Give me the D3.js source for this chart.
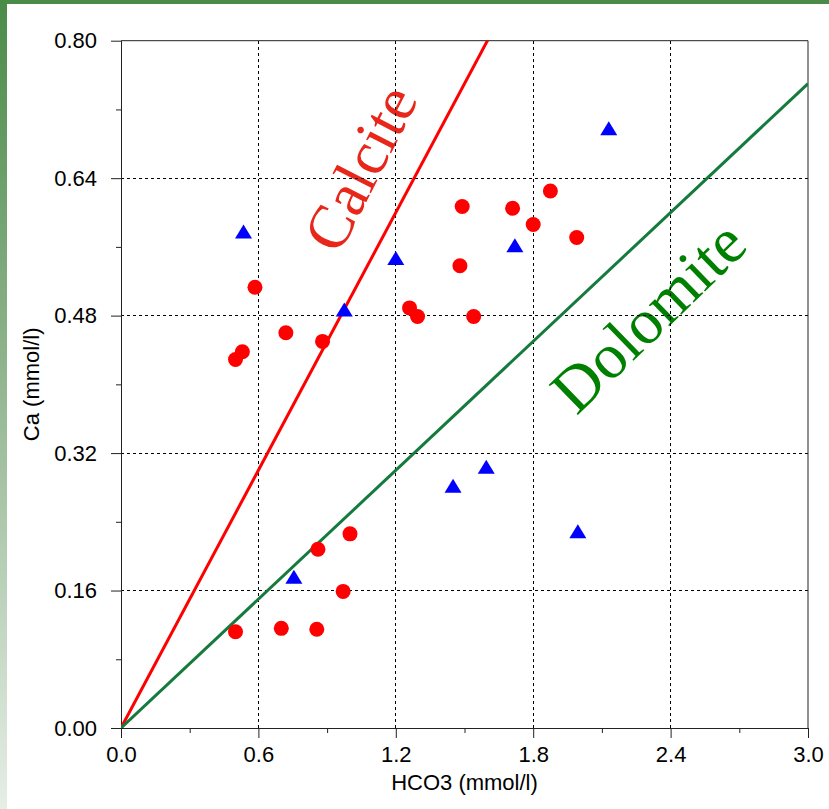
<!DOCTYPE html>
<html>
<head>
  <title>Ca vs HCO3</title>
<script src="https://d3js.org/d3.v7.min.js"></script>
<style>
  body { margin: 0; background: #fff; }
  .axis text { font-family: "Liberation Sans", Arial, sans-serif; font-size: 22px; fill: #000; }
  .axis path, .axis line { stroke: #222; }
</style>
</head>
<body>
<div id="chart"></div>

<script>
  // red circles
  var circleHCO3 = [0.50, 0.70, 0.855, 0.97, 0.86, 1.00, 0.50, 0.53, 0.585, 0.72, 0.88, 1.26, 1.295, 1.48, 1.49, 1.54, 1.71, 1.80, 1.875, 1.99];
  var circleCa   = [0.112, 0.116, 0.115, 0.159, 0.208, 0.226, 0.429, 0.438, 0.513, 0.460, 0.450, 0.489, 0.479, 0.538, 0.607, 0.479, 0.605, 0.586, 0.625, 0.571];

  // blue triangles
  var triHCO3 = [0.535, 0.975, 1.20, 1.72, 2.13, 0.755, 1.45, 1.595, 1.995];
  var triCa   = [0.578, 0.487, 0.547, 0.562, 0.698, 0.176, 0.282, 0.304, 0.229];

  // reference lines Ca = k * HCO3
  var lineNames  = ["Calcite", "Dolomite"];
  var lineSlopes = [0.5, 0.25];

  var xTicks = [0, 0.6, 1.2, 1.8, 2.4, 3.0];
  var xMinor = [0.3, 0.9, 1.5, 2.1, 2.7];
  var yTicks = [0, 0.16, 0.32, 0.48, 0.64, 0.80];
  var yMinor = [0.08, 0.24, 0.40, 0.56, 0.72];

  var W = 829, H = 809;
  var margin = {top: 40.7, right: 21, bottom: 81, left: 121};

  var svg = d3.select("#chart").append("svg")
    .attr("width", W)
    .attr("height", H);

  // green frame of the slide
  var defs = svg.append("defs");
  var grad = defs.append("linearGradient")
    .attr("id", "leftbar")
    .attr("x1", 0).attr("y1", 0).attr("x2", 0).attr("y2", 1);
  grad.append("stop").attr("offset", "0%").attr("stop-color", "#4a8b48");
  grad.append("stop").attr("offset", "45%").attr("stop-color", "#8fb48d");
  grad.append("stop").attr("offset", "100%").attr("stop-color", "#e6eee6");

  svg.append("rect").attr("x", 0).attr("y", 0).attr("width", 7).attr("height", H).attr("fill", "url(#leftbar)");
  svg.append("rect").attr("x", 0).attr("y", 0).attr("width", W).attr("height", 4).attr("fill", "#4a8b48");

  var x = d3.scaleLinear().domain([0, 3]).range([margin.left, W - margin.right]);
  var y = d3.scaleLinear().domain([0, 0.8]).range([H - margin.bottom, margin.top]);

  defs.append("clipPath").attr("id", "plot")
    .append("rect")
    .attr("x", x(0)).attr("y", y(0.8))
    .attr("width", x(3) - x(0)).attr("height", y(0) - y(0.8));

  // labels along the lines
  var labelColors = ["#e8261a", "#008000"];
  var labelSizes = [62, 64];
  var labelPos = [[1.044, 0.652], [2.301, 0.479]];
  lineNames.forEach(function(name, i) {
    var ang = Math.atan2(y(0) - y(lineSlopes[i]), x(1) - x(0)) * 180 / Math.PI;
    svg.append("text")
      .attr("transform", "translate(" + x(labelPos[i][0]) + "," + y(labelPos[i][1]) + ") rotate(" + (-ang - 1) + ")")
      .attr("text-anchor", "middle")
      .attr("dy", "0.34em")
      .style("font-family", "'Liberation Serif', 'Times New Roman', serif")
      .style("font-size", labelSizes[i] + "px")
      .attr("fill", labelColors[i])
      .text(name);
  });

  // dashed grid
  var grid = svg.append("g");
  grid.selectAll(".gx").data(xTicks.slice(1, -1)).enter().append("line")
    .attr("x1", function(d) { return x(d); }).attr("x2", function(d) { return x(d); })
    .attr("y1", y(0)).attr("y2", y(0.8))
    .attr("stroke", "#000").attr("stroke-dasharray", "3,3").attr("shape-rendering", "crispEdges");
  grid.selectAll(".gy").data(yTicks.slice(1, -1)).enter().append("line")
    .attr("y1", function(d) { return y(d); }).attr("y2", function(d) { return y(d); })
    .attr("x1", x(0)).attr("x2", x(3))
    .attr("stroke", "#000").attr("stroke-dasharray", "3,3").attr("shape-rendering", "crispEdges");

  // axes
  svg.append("g").attr("class", "axis")
    .attr("transform", "translate(0," + y(0) + ")")
    .call(d3.axisBottom(x).tickValues(xTicks).tickFormat(d3.format(".1f")).tickSize(10).tickSizeOuter(0).tickPadding(8));
  svg.append("g").attr("class", "axis")
    .attr("transform", "translate(0," + y(0) + ")")
    .call(d3.axisBottom(x).tickValues(xMinor).tickFormat("").tickSize(5).tickSizeOuter(0));
  svg.append("g").attr("class", "axis")
    .attr("transform", "translate(" + x(0) + ",0)")
    .call(d3.axisLeft(y).tickValues(yTicks).tickFormat(d3.format(".2f")).tickSize(10).tickSizeOuter(0).tickPadding(14));
  svg.append("g").attr("class", "axis")
    .attr("transform", "translate(" + x(0) + ",0)")
    .call(d3.axisLeft(y).tickValues(yMinor).tickFormat("").tickSize(5).tickSizeOuter(0));

  // frame top/right
  svg.append("path")
    .attr("d", "M" + x(0) + "," + y(0.8) + "H" + x(3) + "V" + y(0))
    .attr("fill", "none").attr("stroke", "#222");

  // axis titles
  svg.append("text")
    .attr("x", (x(0) + x(3)) / 2)
    .attr("y", 790)
    .attr("text-anchor", "middle")
    .style("font-family", "'Liberation Sans', Arial, sans-serif")
    .style("font-size", "22px")
    .text("HCO3 (mmol/l)");
  svg.append("text")
    .attr("transform", "translate(39," + (y(0) + y(0.8)) / 2 + ") rotate(-90)")
    .attr("text-anchor", "middle")
    .style("font-family", "'Liberation Sans', Arial, sans-serif")
    .style("font-size", "22px")
    .text("Ca (mmol/l)");

  // reference lines
  var lineColors = ["#ff0000", "#157a3e"];
  var lines = svg.append("g").attr("clip-path", "url(#plot)");
  lineSlopes.forEach(function(k, i) {
    lines.append("line")
      .attr("x1", x(0)).attr("y1", y(0))
      .attr("x2", x(3)).attr("y2", y(3 * k))
      .attr("stroke", lineColors[i])
      .attr("stroke-width", 3);
  });

  // points
  var circles = circleHCO3.map(function(h, i) { return {h: h, ca: circleCa[i]}; });
  var tris = triHCO3.map(function(h, i) { return {h: h, ca: triCa[i]}; });

  svg.selectAll(".dot").data(circles).enter().append("circle")
    .attr("cx", function(d) { return x(d.h); })
    .attr("cy", function(d) { return y(d.ca); })
    .attr("r", 7.5)
    .attr("fill", "#ff0000");

  svg.selectAll(".tri").data(tris).enter().append("path")
    .attr("transform", function(d) { return "translate(" + x(d.h) + "," + y(d.ca) + ")"; })
    .attr("d", "M0,-7L8.5,7L-8.5,7Z")
    .attr("fill", "#0000ff");
</script>
</body>
</html>
